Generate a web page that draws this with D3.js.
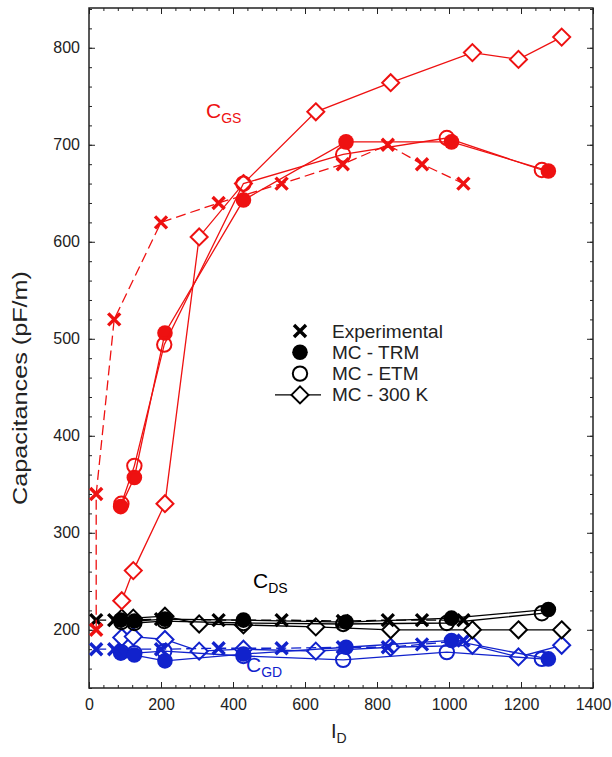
<!DOCTYPE html>
<html>
<head>
<meta charset="utf-8">
<script src="https://cdn.jsdelivr.net/npm/d3@7"></script>
<style>
  body { margin: 0; background: #fff; }
  svg { font-family: "Liberation Sans", Arial, sans-serif; }
</style>
</head>
<body>
<div class="mainContainer"></div>
<script>
// drain current I_D and capacitances (pF/m)
const xExpGS = [20, 20, 70, 200, 360, 535, 705, 830, 925, 1040];
const cgsExp = [200, 340, 520, 620, 640, 660, 680, 700, 680, 660];
const xExp = [20, 70, 200, 360, 535, 705, 830, 925, 1040];
const cdsExp = [210, 210, 211, 210, 210, 209, 210, 210, 210];
const cgdExp = [180, 180, 180, 181, 181, 182, 182, 185, 189];

const xTRM = [88, 126, 211, 429, 714, 1007, 1276];
const cgsTRM = [327, 357, 506, 643, 703, 703, 673];
const cdsTRM = [210, 209, 211, 210, 208, 212, 221];
const cgdTRM = [176, 174, 168, 175, 182, 189, 170];

const xETM = [90, 126, 209, 429, 706, 994, 1258];
const cgsETM = [330, 369, 494, 660, 690, 707, 674];
const cdsETM = [208, 207, 209, 207, 206, 207, 217];
const cgdETM = [177, 176, 178, 173, 169, 177, 170];

const x300 = [91, 123, 211, 306, 429, 630, 838, 1065, 1193, 1313];
const cgs300 = [230, 261, 330, 605, 660, 734, 764, 795, 788, 811];
const cds300 = [212, 212, 214, 206, 205, 203, 200, 200, 200, 200];
const cgd300 = [192, 193, 190, 178, 180, 178, 182, 184, 172, 184];

const xTicks = [0, 200, 400, 600, 800, 1000, 1200, 1400];
const yTicks = [200, 300, 400, 500, 600, 700, 800];
const legendNames = ['Experimental', 'MC - TRM', 'MC - ETM', 'MC - 300 K'];

const RED = '#ee1111', BLUE = '#1122cc', BLACK = '#000';

let width = 612, height = 757;
let plotLeft = 89, plotRight = 593, plotTop = 8, plotBottom = 688;

let x = d3.scaleLinear().domain([0, 1400]).range([plotLeft, plotRight]);
let y = d3.scaleLinear().domain([140, 841]).range([plotBottom, plotTop]);

let svg = d3.select('.mainContainer').append('svg')
  .attr('width', width).attr('height', height);

// frame
svg.append('rect')
  .attr('x', plotLeft).attr('y', plotTop)
  .attr('width', plotRight - plotLeft).attr('height', plotBottom - plotTop)
  .attr('fill', 'none').attr('stroke', '#222').attr('stroke-width', 1.5);

// minor ticks (inward), then major ticks with labels
let xMinor = d3.range(0, 1401, 40);
let yMinor = d3.range(140, 841, 20);

function addAxis(axis, tx, ty, labels) {
  let g = svg.append('g').attr('transform', 'translate(' + tx + ',' + ty + ')').call(axis);
  g.select('.domain').remove();
  g.selectAll('line').attr('stroke', '#222');
  if (!labels) g.selectAll('text').remove();
  else g.selectAll('text').attr('fill', '#222').style('font-size', '16px');
  return g;
}

let fmt = d3.format('d');

addAxis(d3.axisBottom(x).tickValues(xMinor).tickSizeInner(-3).tickSizeOuter(0), 0, plotBottom, false);
addAxis(d3.axisTop(x).tickValues(xMinor).tickSizeInner(-3).tickSizeOuter(0), 0, plotTop, false);
addAxis(d3.axisLeft(y).tickValues(yMinor).tickSizeInner(-3).tickSizeOuter(0), plotLeft, 0, false);
addAxis(d3.axisRight(y).tickValues(yMinor).tickSizeInner(-3).tickSizeOuter(0), plotRight, 0, false);

addAxis(d3.axisBottom(x).tickValues(xTicks).tickFormat(fmt).tickSizeInner(-6).tickSizeOuter(0).tickPadding(11), 0, plotBottom, true);
addAxis(d3.axisTop(x).tickValues(xTicks).tickSizeInner(-6).tickSizeOuter(0), 0, plotTop, false);
addAxis(d3.axisLeft(y).tickValues(yTicks).tickFormat(fmt).tickSizeInner(-6).tickSizeOuter(0).tickPadding(9), plotLeft, 0, true);
addAxis(d3.axisRight(y).tickValues(yTicks).tickSizeInner(-6).tickSizeOuter(0), plotRight, 0, false);

// axis titles (glyphs look stretched along the axis in the original)
svg.append('text')
  .attr('transform', 'translate(27,388) rotate(-90) scale(1.2,1)')
  .attr('text-anchor', 'middle')
  .style('font-size', '21px').attr('fill', '#222')
  .text('Capacitances (pF/m)');

let xl = svg.append('text').attr('x', 331).attr('y', 738)
  .style('font-size', '20px').attr('fill', '#222');
xl.append('tspan').text('I');
xl.append('tspan').attr('dy', 5).style('font-size', '14px').text('D');

// markers
function drawMarker(g, kind, cx, cy, color) {
  if (kind === 'x') {
    let s = 6;
    g.append('path')
      .attr('d', 'M' + (cx - s) + ',' + (cy - s) + 'L' + (cx + s) + ',' + (cy + s) +
                 'M' + (cx - s) + ',' + (cy + s) + 'L' + (cx + s) + ',' + (cy - s))
      .attr('stroke', color).attr('stroke-width', 3.4).attr('fill', 'none');
  } else if (kind === 'filled') {
    g.append('circle').attr('cx', cx).attr('cy', cy).attr('r', 7.8).attr('fill', color);
  } else if (kind === 'open') {
    g.append('circle').attr('cx', cx).attr('cy', cy).attr('r', 7.2)
      .attr('fill', 'none').attr('stroke', color).attr('stroke-width', 2);
  } else {
    let s = 8.5;
    g.append('path')
      .attr('d', 'M' + cx + ',' + (cy - s) + 'L' + (cx + s) + ',' + cy + 'L' + cx + ',' + (cy + s) + 'L' + (cx - s) + ',' + cy + 'Z')
      .attr('stroke', color).attr('stroke-width', 2).attr('fill', '#fff');
  }
}

const line = d3.line().x((d) => x(d[0])).y((d) => y(d[1]));

function drawSeries(xs, ys, kind, color, dashed) {
  let pts = xs.map((v, i) => [v, ys[i]]);
  let g = svg.append('g');
  g.append('path')
    .attr('d', line(pts))
    .attr('fill', 'none')
    .attr('stroke', color)
    .attr('stroke-width', 1.3)
    .attr('stroke-dasharray', dashed ? '10,5' : null);
  pts.forEach((p) => drawMarker(g, kind, x(p[0]), y(p[1]), color));
}

// C_GD (blue)
drawSeries(x300, cgd300, 'diamond', BLUE, false);
drawSeries(xETM, cgdETM, 'open', BLUE, false);
drawSeries(xTRM, cgdTRM, 'filled', BLUE, false);
drawSeries(xExp, cgdExp, 'x', BLUE, true);
// C_DS (black)
drawSeries(x300, cds300, 'diamond', BLACK, false);
drawSeries(xETM, cdsETM, 'open', BLACK, false);
drawSeries(xTRM, cdsTRM, 'filled', BLACK, false);
drawSeries(xExp, cdsExp, 'x', BLACK, true);
// C_GS (red)
drawSeries(x300, cgs300, 'diamond', RED, false);
drawSeries(xTRM, cgsTRM, 'filled', RED, false);
drawSeries(xETM, cgsETM, 'open', RED, false);
drawSeries(xExpGS, cgsExp, 'x', RED, true);

// curve labels
function subLabel(tx, ty, main, sub, color) {
  let t = svg.append('text').attr('x', tx).attr('y', ty).attr('fill', color).style('font-size', '21px');
  t.append('tspan').text(main);
  t.append('tspan').attr('dy', 5).style('font-size', '14px').text(sub);
}
subLabel(206, 118, 'C', 'GS', RED);
subLabel(253, 588, 'C', 'DS', BLACK);
subLabel(246, 672, 'C', 'GD', BLUE);

// legend
let leg = svg.append('g');
let kinds = ['x', 'filled', 'open', 'diamond'];
legendNames.forEach((name, i) => {
  let ly = 331 + i * 21.3;
  if (kinds[i] === 'diamond') {
    leg.append('line').attr('x1', 275).attr('x2', 321).attr('y1', ly).attr('y2', ly)
      .attr('stroke', BLACK).attr('stroke-width', 1.3);
  }
  drawMarker(leg, kinds[i], 300, ly, BLACK);
  leg.append('text').attr('x', 332).attr('y', ly + 6.5)
    .style('font-size', '19px').attr('fill', '#222').text(name);
});
</script>
</body>
</html>
